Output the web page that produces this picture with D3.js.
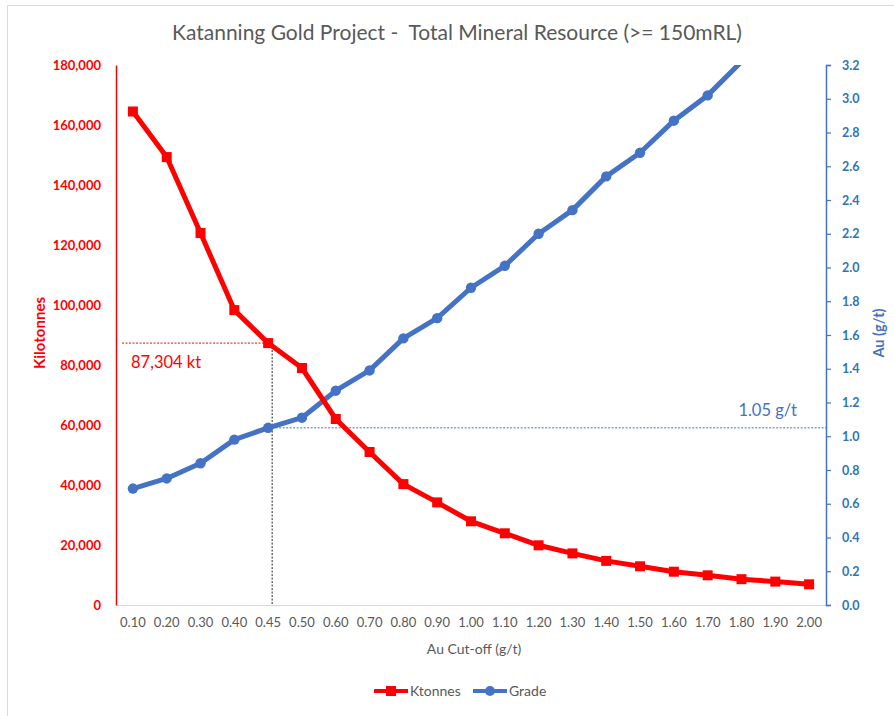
<!DOCTYPE html>
<html><head><meta charset="utf-8">
<script src="https://cdn.jsdelivr.net/npm/d3@7"></script>
<style>body{margin:0;background:#fff;} svg{display:block;}</style>
</head><body>
<script>
const categories = ["0.10","0.20","0.30","0.40","0.45","0.50","0.60","0.70","0.80","0.90","1.00","1.10","1.20","1.30","1.40","1.50","1.60","1.70","1.80","1.90","2.00"];
const ktonnes = [164500,149300,124000,98300,87304,79000,62000,51000,40300,34200,27900,23900,19900,17200,14700,12900,11100,9900,8600,7800,6900];
const grade = [0.69,0.75,0.84,0.98,1.05,1.11,1.27,1.39,1.58,1.70,1.88,2.01,2.20,2.34,2.54,2.68,2.87,3.02,3.22,3.40,3.58];
const leftTicks = [0,20000,40000,60000,80000,100000,120000,140000,160000,180000];
const rightTicks = [0,0.2,0.4,0.6,0.8,1.0,1.2,1.4,1.6,1.8,2.0,2.2,2.4,2.6,2.8,3.0,3.2];
const markCut = "0.45", markKt = 87304, markGrade = 1.05;

const W = 894, H = 716;
const m = {left:116, right:826, top:65, bottom:605};
const RED = "#ff0000", BLUE = "#4472c4", BLUEAX = "#2e75b6", GREY = "#595959";
const FONT = "Lato, 'Open Sans', sans-serif";

const svg = d3.select("body").append("svg").attr("width", W).attr("height", H)
  .style("font-family", FONT);

svg.append("rect").attr("x",7.5).attr("y",5.5).attr("width",W+10).attr("height",H+10)
  .attr("fill","none").attr("stroke","#d9d9d9");

const x = d3.scaleBand().domain(categories).range([m.left, m.right]);
const yL = d3.scaleLinear().domain([0,180000]).range([m.bottom, m.top]);
const yR = d3.scaleLinear().domain([0,3.2]).range([m.bottom, m.top]);
const cx = c => x(c) + x.bandwidth()/2;

svg.append("defs").append("clipPath").attr("id","plot")
  .append("rect").attr("x",m.left).attr("y",m.top).attr("width",m.right-m.left).attr("height",m.bottom-m.top);

// title
svg.append("text").attr("x",457).attr("y",40).attr("text-anchor","middle")
  .attr("fill",GREY).style("font-size","21px").attr("xml:space","preserve")
  .text("Katanning Gold Project -  Total Mineral Resource (>= 150mRL)");

// x axis
const xAxis = svg.append("g").attr("transform",`translate(0,${m.bottom})`)
  .call(d3.axisBottom(x).tickSize(0).tickPadding(13));
xAxis.select(".domain").attr("stroke","#d9d9d9").attr("stroke-width",1.2);
xAxis.selectAll("text").attr("fill",GREY).style("font-size","13px").style("font-family",FONT);
svg.append("text").attr("x",474).attr("y",654).attr("text-anchor","middle")
  .attr("fill",GREY).style("font-size","14px").text("Au Cut-off (g/t)");

// left axis
const lAxis = svg.append("g").attr("transform",`translate(${m.left},0)`)
  .call(d3.axisLeft(yL).tickValues(leftTicks).tickSize(0).tickPadding(15).tickFormat(d3.format(",")));
lAxis.select(".domain").attr("stroke",RED).attr("stroke-width",1.5);
lAxis.selectAll("text").attr("fill",RED).style("font-size","13px").style("font-weight","bold").style("font-family",FONT);
svg.append("text").attr("transform","translate(45,333) rotate(-90)").attr("text-anchor","middle")
  .attr("fill",RED).style("font-size","15px").style("font-weight","bold").text("Kilotonnes");

// right axis
const rAxis = svg.append("g").attr("transform",`translate(${m.right},0)`)
  .call(d3.axisRight(yR).tickValues(rightTicks).tickSize(5).tickSizeOuter(5).tickPadding(11).tickFormat(d3.format(".1f")));
rAxis.select(".domain").attr("stroke",BLUE).attr("stroke-width",1.5);
rAxis.selectAll(".tick line").attr("stroke",BLUE).attr("stroke-width",1.2);
rAxis.selectAll("text").attr("fill",BLUEAX).style("font-size","12.5px").style("font-weight","bold").style("font-family",FONT);
svg.append("text").attr("transform","translate(884,333) rotate(-90)").attr("text-anchor","middle")
  .attr("fill",BLUE).style("font-size","14.5px").style("font-weight","bold").text("Au (g/t)");

// annotation lines
const mx = cx(markCut) + 4;
svg.append("line").attr("x1",m.left+6).attr("x2",mx-4).attr("y1",yL(markKt)).attr("y2",yL(markKt))
  .attr("stroke",RED).attr("stroke-width",1).attr("stroke-dasharray","2,1.5");
svg.append("line").attr("x1",mx).attr("x2",mx).attr("y1",yL(markKt)).attr("y2",m.bottom)
  .attr("stroke","#222").attr("stroke-width",1).attr("stroke-dasharray","2,1.5");
svg.append("line").attr("x1",mx).attr("x2",m.right).attr("y1",yR(markGrade)).attr("y2",yR(markGrade))
  .attr("stroke",BLUE).attr("stroke-width",1).attr("stroke-dasharray","2,1.5");
svg.append("text").attr("x",131).attr("y",368).attr("fill",RED).style("font-size","16.5px")
  .text(d3.format(",")(markKt) + " kt");
svg.append("text").attr("x",797).attr("y",416).attr("text-anchor","end").attr("fill",BLUE).style("font-size","16.5px")
  .text(markGrade.toFixed(2) + " g/t");

// series
const plot = svg.append("g").attr("clip-path","url(#plot)");
const lineK = d3.line().x((d,i)=>cx(categories[i])).y(d=>yL(d));
const lineG = d3.line().x((d,i)=>cx(categories[i])).y(d=>yR(d));
plot.append("path").datum(grade).attr("d",lineG).attr("fill","none").attr("stroke",BLUE).attr("stroke-width",5).attr("stroke-linejoin","round");
svg.append("g").selectAll("circle").data(grade.map((v,i)=>({v,c:categories[i]})).filter(d=>d.v<=3.2))
  .join("circle").attr("cx",d=>cx(d.c)).attr("cy",d=>yR(d.v)).attr("r",5.2).attr("fill",BLUE);
plot.append("path").datum(ktonnes).attr("d",lineK).attr("fill","none").attr("stroke",RED).attr("stroke-width",5).attr("stroke-linejoin","round");
svg.append("g").selectAll("rect").data(ktonnes.map((v,i)=>({v,c:categories[i]})))
  .join("rect").attr("x",d=>cx(d.c)-5).attr("y",d=>yL(d.v)-5).attr("width",10).attr("height",10).attr("fill",RED);

// legend
const lg = svg.append("g");
lg.append("line").attr("x1",374).attr("x2",408).attr("y1",691).attr("y2",691).attr("stroke",RED).attr("stroke-width",4);
lg.append("rect").attr("x",386).attr("y",686).attr("width",10).attr("height",10).attr("fill",RED);
lg.append("text").attr("x",410).attr("y",696).attr("fill",GREY).style("font-size","14px").text("Ktonnes");
lg.append("line").attr("x1",473).attr("x2",507).attr("y1",691).attr("y2",691).attr("stroke",BLUE).attr("stroke-width",4);
lg.append("circle").attr("cx",490).attr("cy",691).attr("r",5).attr("fill",BLUE);
lg.append("text").attr("x",509).attr("y",696).attr("fill",GREY).style("font-size","14px").text("Grade");
</script>
</body></html>
